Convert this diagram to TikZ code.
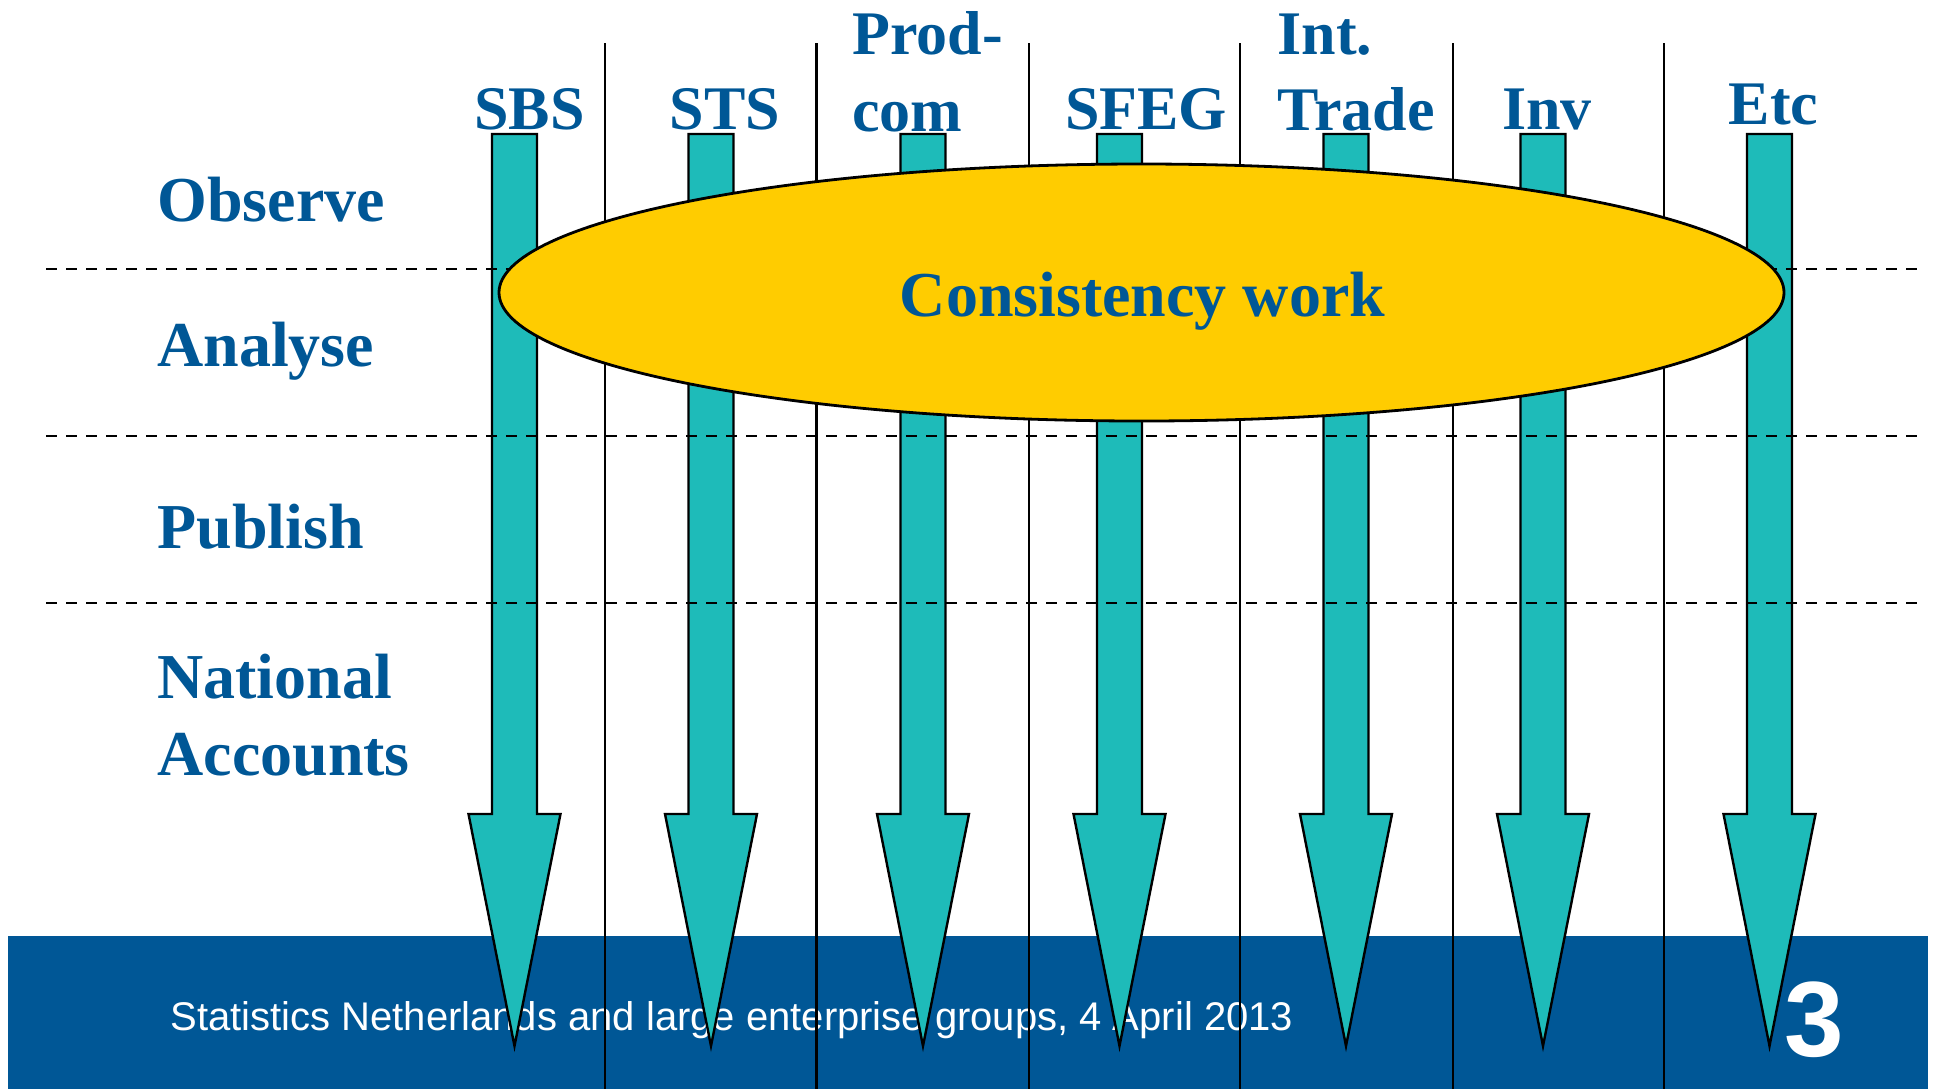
\documentclass[tikz,border=0pt]{standalone}
\usepackage{fontspec}
\setmainfont{Liberation Serif}
\newfontfamily\footfont{Liberation Sans}
\usetikzlibrary{shapes.geometric}
\definecolor{cbsblue}{RGB}{0,87,150}
\definecolor{arrowteal}{RGB}{30,187,185}
\definecolor{cwyellow}{RGB}{255,204,0}
\begin{document}
\begin{tikzpicture}[x=0.5pt,y=-0.5pt,
  rowlabel/.style={anchor=base west,inner sep=0pt,text=cbsblue,font=\fontsize{32}{38}\selectfont\bfseries},
  collabel/.style={anchor=base,inner sep=0pt,text=cbsblue,font=\fontsize{31}{37}\selectfont\bfseries},
  collabelw/.style={collabel,anchor=base west},
  colsep/.style={draw=black,line width=1.2pt},
  rowsep/.style={draw=black,line width=1pt,dash pattern=on 5.5pt off 4.5pt},
  flowarrow/.style={fill=arrowteal,draw=black,line width=1.2pt,line join=miter},
  cwell/.style={ellipse,fill=cwyellow,draw=black,line width=1.4pt,inner sep=0pt,minimum width=642.5pt,minimum height=128.5pt},
  cwtext/.style={anchor=base,inner sep=0pt,text=cbsblue,font=\fontsize{32}{38}\selectfont\bfseries},
  foottext/.style={anchor=base west,inner sep=0pt,text=white,font=\footfont\fontsize{20}{24}\selectfont},
  pagenum/.style={anchor=base,inner sep=0pt,text=white,font=\footfont\bfseries\fontsize{53.5}{60}\selectfont}]
\useasboundingbox (0,0) rectangle (1937,1089);
% footer band
\fill[cbsblue] (8,936) rectangle (1928,1089);
\node[foottext] (foot) at (170,1030) {Statistics Netherlands and large enterprise groups, 4 April 2013};
\node[pagenum] (pnum) at (1814,1056) {3};
% column separators
\foreach \x/\n in {605/a,816.5/b,1029/c,1240/d,1453/e,1664/f}{
  \coordinate (vt\n) at (\x,43);
  \coordinate (vb\n) at (\x,1089);
  \draw[colsep] (vt\n) -- (vb\n);
}
% flow arrows
\foreach \c in {514.5,711,923,1119.5,1346,1543,1769.5}{
  \draw[flowarrow] (\c-22.5,134) -- (\c+22.5,134) -- (\c+22.5,814) -- (\c+46,814)
    -- (\c,1046) -- (\c-46,814) -- (\c-22.5,814) -- cycle;
}
% row separators
\foreach \y/\n in {269/a,436/b,603/c}{
  \coordinate (hl\n) at (46,\y);
  \coordinate (hr\n) at (1925,\y);
  \draw[rowsep] (hl\n) -- (hr\n);
}
% consistency ellipse
\node[cwell] (cw) at (1141.5,292.5) {};
\node[cwtext] (cwlabel) at (1142.5,316) {Consistency work};
% row labels
\node[rowlabel] (observe) at (157,221) {Observe};
\node[rowlabel] (analyse) at (157,366) {Analyse};
\node[rowlabel] (publish) at (157,548) {Publish};
\node[rowlabel] (national) at (157,698) {National};
\node[rowlabel] (accounts) at (157,775) {Accounts};
% column labels
\node[collabel] (sbs) at (529.5,129) {SBS};
\node[collabel] (sts) at (725,129) {STS};
\node[collabelw] (prod) at (852,54) {Prod-};
\node[collabelw] (com) at (852,131) {com};
\node[collabel] (sfeg) at (1146,129) {SFEG};
\node[collabelw] (int) at (1277,54) {Int.};
\node[collabelw] (trade) at (1277,130) {Trade};
\node[collabel] (inv) at (1547,129) {Inv};
\node[collabel] (etc) at (1773.5,124) {Etc};
\end{tikzpicture}
\end{document}
